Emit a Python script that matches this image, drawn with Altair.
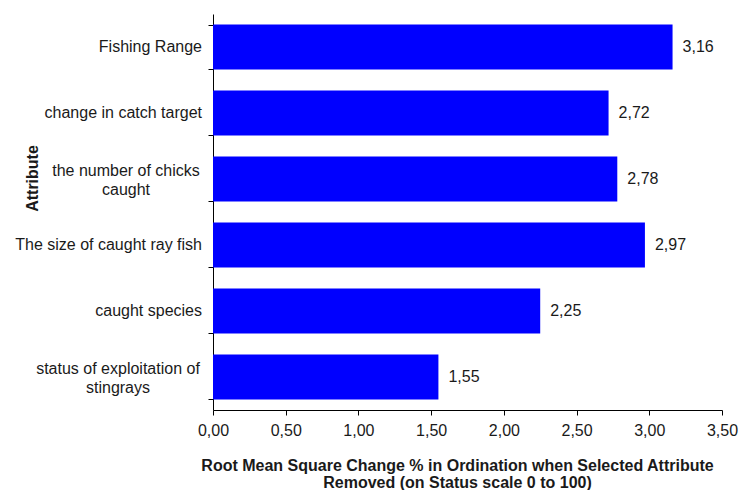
import altair as alt
import pandas as pd

# Attributes (top to bottom) and their RMS change in ordination
attributes = [
    "Fishing Range",
    "change in catch target",
    "the number of chicks\ncaught",
    "The size of caught ray fish",
    "caught species",
    "status of exploitation of\nstingrays",
]
rms_change = [3.16, 2.72, 2.78, 2.97, 2.25, 1.55]
x_ticks = [0.0, 0.5, 1.0, 1.5, 2.0, 2.5, 3.0, 3.5]

df = pd.DataFrame({"attribute": attributes, "rms": rms_change})

FONT = "Liberation Sans"
TEXT = "#1a1a1a"
FS = 16

y_scale = alt.Scale(paddingInner=0.32, paddingOuter=0.16)

y_enc = alt.Y(
    "attribute:N",
    sort=attributes,
    scale=y_scale,
    axis=alt.Axis(
        title="Attribute",
        titleFont=FONT,
        titleFontSize=FS,
        titleFontWeight="bold",
        titleColor=TEXT,
        titleAngle=270,
        titleAlign="center",
        titleBaseline="middle",
        titleX=-181,
        titleY=164,
        labels=False,
        tickBand="extent",
        tickSize=5,
        tickColor="black",
        domainColor="black",
        domainWidth=1,
        grid=False,
    ),
)

x_enc = alt.X(
    "rms:Q",
    scale=alt.Scale(domain=[0, 3.5], nice=False),
    axis=alt.Axis(
        title=[
            "Root Mean Square Change % in Ordination when Selected Attribute",
            "Removed (on Status scale 0 to 100)",
        ],
        titleFont=FONT,
        titleFontSize=FS,
        titleFontWeight="bold",
        titleColor=TEXT,
        titleLineHeight=17,
        titleAlign="center",
        titleBaseline="top",
        titleX=244,
        titleY=47,
        values=x_ticks,
        labelExpr="replace(format(datum.value, '.2f'), '.', ',')",
        labelFont=FONT,
        labelFontSize=FS,
        labelColor=TEXT,
        labelPadding=7,
        labelFlush=False,
        tickSize=5,
        tickColor="black",
        domainColor="black",
        domainWidth=1,
        grid=False,
    ),
)

base = alt.Chart(df)
y_plain = alt.Y("attribute:N", sort=attributes)

bars = base.mark_bar(color="#0000FF").encode(x=x_enc, y=y_enc)

values = (
    base.transform_calculate(lbl="replace(format(datum.rms, '.2f'), '.', ',')")
    .mark_text(align="left", baseline="middle", dx=10, font=FONT, fontSize=FS, color=TEXT)
    .encode(x="rms:Q", y=y_plain, text="lbl:N")
)

# category names beside the axis: one-line names right-aligned,
# two-line names centred line by line with their longest line against the axis
multi = "indexof(datum.attribute, '\\n') >= 0"

names_single = (
    base.transform_filter("!(" + multi + ")")
    .mark_text(align="right", baseline="middle", dx=-11, font=FONT, fontSize=FS, color=TEXT)
    .encode(x=alt.value(0), y=y_plain, text="attribute:N")
)


def two_line_name(name, shift):
    return (
        base.transform_filter(alt.datum.attribute == name)
        .mark_text(
            align="center",
            baseline="line-bottom",
            lineBreak="\n",
            lineHeight=19,
            dx=shift,
            dy=2,
            font=FONT,
            fontSize=FS,
            color=TEXT,
        )
        .encode(x=alt.value(0), y=y_plain, text="attribute:N")
    )


names_chicks = two_line_name(attributes[2], -87)
names_status = two_line_name(attributes[5], -95)

chart = (
    alt.layer(bars, values, names_single, names_chicks, names_status)
    .properties(
        width=509,
        height=396,
        autosize=alt.AutoSizeParams(type="none"),
        padding={"left": 213, "top": 14, "right": 18, "bottom": 80},
        background="white",
    )
    .configure_view(stroke=None)
)

chart.save("out.html", embed_options={"renderer": "svg", "actions": False})
